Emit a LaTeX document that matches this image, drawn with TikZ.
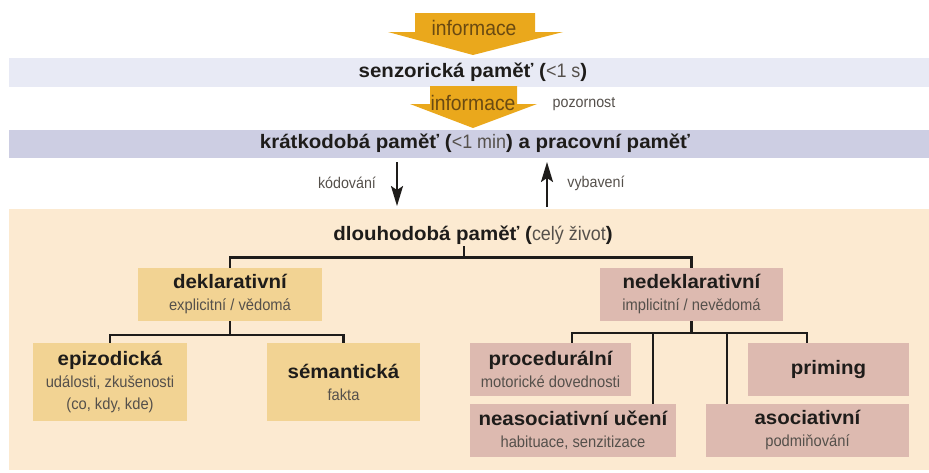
\documentclass[tikz,border=0pt]{standalone}
\usepackage{fontspec}
\setmainfont{Liberation Sans}
\newfontfamily\bfam[FakeStretch=1.05]{Liberation Sans}
\newfontfamily\lfam[FakeStretch=0.92]{Liberation Sans}
\usetikzlibrary{arrows.meta,calc}
\definecolor{bandA}{HTML}{E8EAF5}
\definecolor{bandB}{HTML}{CDCEE3}
\definecolor{peach}{HTML}{FCEAD1}
\definecolor{goldbox}{HTML}{F2D393}
\definecolor{mauve}{HTML}{DDBAB0}
\definecolor{arrowgold}{HTML}{EAA81C}
\definecolor{infotext}{HTML}{6A4A12}
\definecolor{subgray}{HTML}{55504B}
\definecolor{ink}{HTML}{1E1C1A}
\newcommand{\subf}{\fontsize{16}{18}\selectfont\lfam\mdseries\color{subgray}}
\newcommand{\lightf}{\lfam\mdseries\color{subgray}}
\tikzset{
  titlefont/.style={font=\fontsize{19.5}{22}\selectfont\bfam\bfseries\color{ink}},
  membox/.style={rectangle, inner sep=0pt, align=center, titlefont},
  goldmem/.style={membox, fill=goldbox},
  mauvemem/.style={membox, fill=mauve},
  treeline/.style={draw=ink, line width=2.3pt},
  flowarrow/.style={draw=ink, line width=2pt, -{Stealth[length=20pt,width=12pt,inset=4pt]}},
  infofont/.style={font=\fontsize{21}{22}\selectfont\lfam\color{infotext}},
  smalllabel/.style={font=\fontsize{15.5}{18}\selectfont\lfam\color{subgray}},
}
\begin{document}
\begin{tikzpicture}[x=1pt,y=-1pt]
\useasboundingbox (0,0) rectangle (929,472);
% bands
\fill[bandA] (9,58) rectangle (929,87);
\fill[bandB] (9,130) rectangle (929,158);
\fill[peach] (9,209) rectangle (929,470);
% big arrows
\fill[arrowgold] (415,13) -- (535,13) -- (535,32) -- (563,32) -- (473,55) -- (388,32) -- (415,32) -- cycle;
\fill[arrowgold] (430,86) -- (517,86) -- (517,104) -- (537,104) -- (473,128) -- (410,104) -- (430,104) -- cycle;
\node[infofont] (info1) at (474,28) {informace};
\node[infofont] (info2) at (473,103) {informace};
\node[smalllabel] (pozor) at (584,104) {pozornost};
% band texts
\node[titlefont] (senz) at (473,72) {senzorická paměť ({\lightf<1 s})};
\node[titlefont] (kratk) at (475,143) {krátkodobá paměť ({\lightf<1 min}) a pracovní paměť};
% coding / retrieval
\coordinate (kodtop) at (397,162);
\coordinate (kodbot) at (397,206);
\coordinate (vybtop) at (547,162);
\coordinate (vybbot) at (547,207);
\draw[flowarrow] (kodtop) -- (kodbot);
\draw[flowarrow] (vybbot) -- (vybtop);
\node[smalllabel] (kod) at (347,183) {kódování};
\node[smalllabel] (vyb) at (596,183) {vybavení};
% long term
\node[titlefont] (dlouh) at (473,235) {dlouhodobá paměť ({\lightf celý život})};
% boxes
\node[goldmem, minimum width=184pt, minimum height=53pt] (dekl) at (230,294.5)
  {deklarativní\\{\subf explicitní / vědomá}};
\node[mauvemem, minimum width=183pt, minimum height=53pt] (nedekl) at (691.5,294.5)
  {nedeklarativní\\{\subf implicitní / nevědomá}};
\node[goldmem, minimum width=154pt, minimum height=78pt] (epi) at (110,382)
  {epizodická\\{\subf události, zkušenosti}\\{\subf (co, kdy, kde)}};
\node[goldmem, minimum width=153pt, minimum height=78pt] (sem) at (343.5,382)
  {sémantická\\{\subf fakta}};
\node[mauvemem, minimum width=161pt, minimum height=53pt] (proc) at (550.5,369.5)
  {procedurální\\{\subf motorické dovednosti}};
\node[mauvemem, minimum width=161pt, minimum height=53pt] (prim) at (828.5,369.5)
  {priming};
\node[mauvemem, minimum width=206pt, minimum height=53pt] (neas) at (573,430.5)
  {neasociativní učení\\{\subf habituace, senzitizace}};
\node[mauvemem, minimum width=203pt, minimum height=53pt] (asoc) at (807.5,430.5)
  {asociativní\\{\subf podmiňování}};
% tree
\coordinate (stem) at (464,246);
\coordinate (barL) at (dekl.north |- 0,257.5);
\coordinate (barR) at (nedekl.north |- 0,257.5);
\draw[treeline] (stem) -- (464,257.5);
\draw[treeline] (dekl.north) -- (barL) -- (barR) -- (nedekl.north);
% declarative branch
\coordinate (dj) at (dekl.south |- 0,335);
\draw[treeline] (dekl.south) -- (dj);
\draw[treeline] (epi.north) -- (epi.north |- dj) -- (sem.north |- dj) -- (sem.north);
% non-declarative branch
\coordinate (nj) at (nedekl.south |- 0,333);
\draw[treeline] (nedekl.south) -- (nj);
\draw[treeline] (proc.north -| 572,0) -- (572,333) -- (807,333) -- (prim.north -| 807,0);
\draw[treeline] (653,333) -- (neas.north -| 653,0);
\draw[treeline] (727,333) -- (asoc.north -| 727,0);
\end{tikzpicture}
\end{document}
